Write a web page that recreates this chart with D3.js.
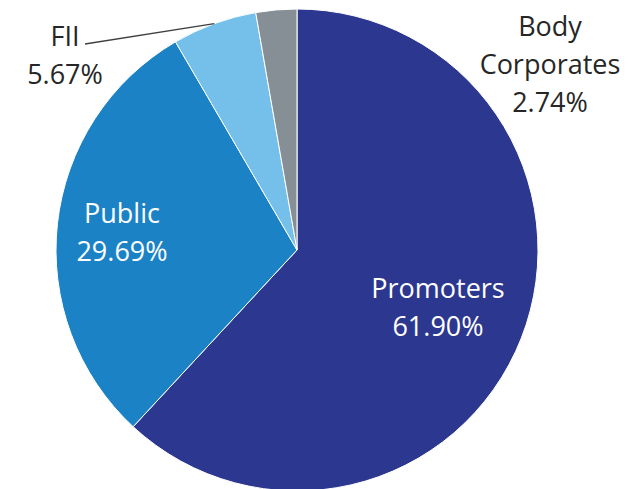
<!DOCTYPE html>
<html><head><meta charset="utf-8">
<script src="https://cdn.jsdelivr.net/npm/d3@7"></script>
<style>html,body{margin:0;padding:0;background:#fff;}svg{display:block;}</style>
</head><body>
<svg id="c" width="636" height="489"></svg>
<script>
const categories = ["Promoters", "Public", "FII", "Body Corporates"];
const values = [61.90, 29.69, 5.67, 2.74];
const valueLabels = ["61.90%", "29.69%", "5.67%", "2.74%"];
const colors = ["#2C378F", "#1A82C5", "#74C0EA", "#878F96"];

const svg = d3.select("#c");
const cx = 297, cy = 250, r = 241;
const g = svg.append("g").attr("transform", `translate(${cx},${cy})`);
const pie = d3.pie().sort(null).value(d => d)(values);
const arc = d3.arc().innerRadius(0).outerRadius(r);
g.selectAll("path").data(pie).join("path")
  .attr("d", arc).attr("fill", (d, i) => colors[i])
  .attr("stroke", "#fff").attr("stroke-width", 1);

const font = "'Open Sans', sans-serif";
const fs = 27;
const labels = [
  {lines: ["Promoters", valueLabels[0]], x: 438, y: 298, fill: "#fff"},
  {lines: ["Public", valueLabels[1]], x: 122, y: 223, fill: "#fff"},
  {lines: ["FII", valueLabels[2]], x: 65, y: 46, fill: "#262626"},
  {lines: ["Body", "Corporates", valueLabels[3]], x: 550, y: 36, fill: "#262626"}
];
labels.forEach(l => {
  const t = svg.append("text").attr("x", l.x).attr("y", l.y)
    .attr("text-anchor", "middle").attr("font-family", font)
    .attr("font-size", fs).attr("fill", l.fill);
  l.lines.forEach((s, i) => t.append("tspan").attr("x", l.x).attr("dy", i === 0 ? 0 : 38).text(s));
});
// FII leader line to the slice's outer edge
const fiiAngle = (pie[2].startAngle + pie[2].endAngle) / 2;
const ex = cx + Math.sin(fiiAngle) * r, ey = cy - Math.cos(fiiAngle) * r;
svg.append("polyline")
  .attr("points", `85,44 ${ex},${ey}`)
  .attr("fill", "none").attr("stroke", "#404040").attr("stroke-width", 1.3);
</script>
</body></html>
